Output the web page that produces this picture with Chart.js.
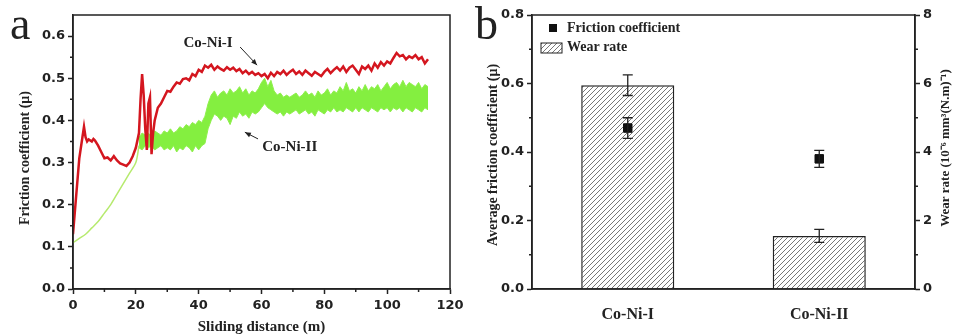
<!DOCTYPE html>
<html><head><meta charset="utf-8">
<script src="https://cdn.jsdelivr.net/npm/chart.js@4.4.0/dist/chart.umd.min.js"></script>
<style>
html,body{margin:0;padding:0;background:#fff;}
#wrap{position:relative;width:955px;height:335px;overflow:hidden;background:#fff;}
#chartA{position:absolute;left:0;top:0;}
#chartB{position:absolute;left:470px;top:0;}
</style></head><body>
<div id="wrap">
<canvas id="chartA" width="470" height="335"></canvas>
<canvas id="chartB" width="485" height="335"></canvas>
</div>
<script>
// ---------- Panel a data ----------
const xTicksA = [0, 20, 40, 60, 80, 100, 120];
const yTicksA = [0.0, 0.1, 0.2, 0.3, 0.4, 0.5, 0.6];

const redDistance = [
  0, 1, 2, 3, 3.5, 4, 4.5, 5, 6, 6.5,
  7, 8, 9, 10, 11, 12, 13, 14, 15, 16,
  17, 18, 19, 20, 21, 21.5, 22, 22.5, 23, 23.5,
  24, 24.5, 25, 25.5, 26,
  27, 28, 29, 30, 31, 32, 33, 34, 35, 36,
  37, 38, 39, 40, 41, 42, 43, 44, 45, 46,
  47, 48, 49, 50, 51, 52, 53, 54, 55, 56,
  57, 58, 59, 60, 61, 62, 63, 64, 65, 66,
  67, 68, 69, 70, 71, 72, 73, 74, 75, 76,
  77, 78, 79, 80, 81, 82, 83, 84, 85, 86,
  87, 88, 89, 90, 91, 92, 93, 94, 95, 96,
  97, 98, 99, 100, 101, 102, 103, 104, 105, 106,
  107, 108, 109, 110, 111, 112, 113
];
const redFriction = [
  0.13, 0.22, 0.31, 0.36, 0.385, 0.36, 0.35, 0.355, 0.35, 0.356,
  0.352, 0.34, 0.325, 0.31, 0.312, 0.305, 0.315, 0.305, 0.298, 0.295,
  0.292, 0.30, 0.315, 0.335, 0.37, 0.45, 0.51, 0.46, 0.38, 0.33,
  0.44, 0.455, 0.32, 0.37, 0.40,
  0.43, 0.44, 0.455, 0.47, 0.468, 0.48, 0.49, 0.487, 0.498, 0.50,
  0.495, 0.51, 0.505, 0.52, 0.515, 0.53, 0.525, 0.532, 0.52, 0.528,
  0.522, 0.518, 0.526, 0.52, 0.525, 0.517, 0.522, 0.512, 0.518, 0.51,
  0.515, 0.508, 0.512, 0.505, 0.51, 0.50, 0.513, 0.505, 0.515, 0.51,
  0.518, 0.508, 0.515, 0.52, 0.51, 0.516, 0.508, 0.518, 0.512, 0.506,
  0.515, 0.51, 0.505, 0.515, 0.522, 0.512, 0.52, 0.526, 0.518, 0.528,
  0.515, 0.525, 0.53, 0.52, 0.51, 0.528, 0.522, 0.53, 0.518, 0.535,
  0.525, 0.538, 0.53, 0.54, 0.535, 0.548, 0.56, 0.552, 0.555, 0.545,
  0.552, 0.548, 0.555, 0.545, 0.55, 0.535, 0.545
];

const greenStartDistance = [0, 2, 4, 6, 8, 10, 12, 14, 16, 18, 20, 21];
const greenStartFriction = [0.11, 0.12, 0.13, 0.145, 0.16, 0.18, 0.20, 0.225, 0.25, 0.275, 0.30, 0.34];

const greenBandDistance = [
  21, 22, 23, 24, 25, 26, 27, 28, 29, 30,
  31, 32, 33, 34, 35, 36, 37, 38, 39, 40,
  41, 42, 43, 44, 45, 46, 47, 48, 49, 50,
  51, 52, 53, 54, 55, 56, 57, 58, 59, 60,
  61, 62, 63, 64, 65, 66, 67, 68, 69, 70,
  71, 72, 73, 74, 75, 76, 77, 78, 79, 80,
  81, 82, 83, 84, 85, 86, 87, 88, 89, 90,
  91, 92, 93, 94, 95, 96, 97, 98, 99, 100,
  101, 102, 103, 104, 105, 106, 107, 108, 109, 110,
  111, 112, 113
];
const greenUpper = [
  0.36, 0.37, 0.365, 0.37, 0.36, 0.375, 0.37, 0.365, 0.375, 0.37,
  0.38, 0.37, 0.375, 0.385, 0.38, 0.39, 0.385, 0.395, 0.39, 0.40,
  0.395, 0.41, 0.44, 0.46, 0.47, 0.455, 0.465, 0.47, 0.46, 0.475,
  0.465, 0.47, 0.48, 0.465, 0.475, 0.46, 0.47, 0.465, 0.475, 0.49,
  0.50, 0.48, 0.495, 0.47, 0.46, 0.465, 0.455, 0.46, 0.455, 0.46,
  0.465, 0.455, 0.46, 0.47, 0.46, 0.465, 0.455, 0.47, 0.46, 0.465,
  0.475, 0.46, 0.47, 0.465, 0.48, 0.47, 0.49, 0.47, 0.475, 0.465,
  0.48, 0.47, 0.485, 0.47, 0.48, 0.475, 0.485, 0.47, 0.48, 0.49,
  0.475, 0.485, 0.49, 0.48, 0.495, 0.48, 0.49, 0.485, 0.48, 0.49,
  0.475, 0.485, 0.48
];
const greenLower = [
  0.335, 0.33, 0.34, 0.335, 0.34, 0.33, 0.335, 0.34, 0.33, 0.335,
  0.33, 0.34, 0.325, 0.335, 0.33, 0.34, 0.335, 0.325, 0.34, 0.33,
  0.34, 0.345, 0.38, 0.40, 0.415, 0.41, 0.40, 0.41, 0.405, 0.39,
  0.41, 0.405, 0.42, 0.41, 0.415, 0.405, 0.42, 0.415, 0.42, 0.43,
  0.44, 0.43, 0.425, 0.42, 0.415, 0.42, 0.41, 0.42, 0.415, 0.42,
  0.425, 0.415, 0.42, 0.425, 0.415, 0.42, 0.41, 0.425, 0.42, 0.415,
  0.425, 0.42, 0.43, 0.42, 0.425, 0.42, 0.43, 0.425, 0.42, 0.43,
  0.42, 0.43, 0.425, 0.42, 0.43, 0.425, 0.42, 0.43, 0.425, 0.43,
  0.42, 0.43, 0.425, 0.43, 0.42, 0.43, 0.425, 0.42, 0.43, 0.425,
  0.42, 0.43, 0.425
];

// ---------- Panel b data ----------
const samples = ['Co-Ni-I', 'Co-Ni-II'];
const avgFriction = [0.47, 0.38];
const avgFrictionErr = [0.03, 0.025];
const wearRate = [5.95, 1.55];
const wearRateErr = [0.3, 0.19];
const yTicksB = [0.0, 0.2, 0.4, 0.6, 0.8];
const y1TicksB = [0, 2, 4, 6, 8];

// ---------- helpers ----------
const INK = '#222';
const tickFont = {family: 'DejaVu Sans', size: 13, weight: 'bold'};
const serifBold = (s) => 'bold ' + s + 'px "Liberation Serif", "Times New Roman", serif';

function pts(xs, ys) { return xs.map((x, i) => ({x: x, y: ys[i]})); }

function minorTicks(ctx, scale, values, len, side) {
  ctx.save(); ctx.strokeStyle = INK; ctx.lineWidth = 1.5; ctx.beginPath();
  values.forEach(v => {
    const p = scale.getPixelForValue(v);
    if (side === 'bottom') { ctx.moveTo(p, scale.top); ctx.lineTo(p, scale.top + len); }
    if (side === 'left') { ctx.moveTo(scale.right, p); ctx.lineTo(scale.right - len, p); }
    if (side === 'right') { ctx.moveTo(scale.left, p); ctx.lineTo(scale.left + len, p); }
  });
  ctx.stroke(); ctx.restore();
}
function frame(ctx, a) {
  ctx.save(); ctx.strokeStyle = INK; ctx.lineWidth = 1.5;
  ctx.strokeRect(a.left, a.top, a.right - a.left, a.bottom - a.top); ctx.restore();
}
function text(ctx, str, x, y, font, align, rot) {
  ctx.save(); ctx.fillStyle = INK; ctx.font = font; ctx.textAlign = align || 'center';
  ctx.textBaseline = 'middle'; ctx.translate(x, y); if (rot) ctx.rotate(rot);
  ctx.fillText(str, 0, 0); ctx.restore();
}
function arrow(ctx, x1, y1, x2, y2) {
  ctx.save(); ctx.strokeStyle = INK; ctx.fillStyle = INK; ctx.lineWidth = 1;
  ctx.beginPath(); ctx.moveTo(x1, y1); ctx.lineTo(x2, y2); ctx.stroke();
  const ang = Math.atan2(y2 - y1, x2 - x1), L = 6, W = 2.5;
  ctx.beginPath(); ctx.moveTo(x2, y2);
  ctx.lineTo(x2 - L * Math.cos(ang) + W * Math.sin(ang), y2 - L * Math.sin(ang) - W * Math.cos(ang));
  ctx.lineTo(x2 - L * Math.cos(ang) - W * Math.sin(ang), y2 - L * Math.sin(ang) + W * Math.cos(ang));
  ctx.closePath(); ctx.fill(); ctx.restore();
}

// ---------- Panel a ----------
const decorA = {
  id: 'decorA',
  afterDraw(chart) {
    const ctx = chart.ctx, a = chart.chartArea, xs = chart.scales.x, ys = chart.scales.y;
    frame(ctx, a);
    minorTicks(ctx, xs, [10, 30, 50, 70, 90, 110], 3, 'bottom');
    minorTicks(ctx, ys, [0.05, 0.15, 0.25, 0.35, 0.45, 0.55], 3, 'left');
    text(ctx, 'Sliding distance (m)', (a.left + a.right) / 2, 327, serifBold(15));
    text(ctx, 'Friction coefficient (\u03bc)', 25, 158, serifBold(14), 'center', -Math.PI / 2);
    text(ctx, 'a', 10, 27, '46px "Liberation Serif", serif', 'left');
    // series annotations (data coordinates)
    const X = v => xs.getPixelForValue(v), Y = v => ys.getPixelForValue(v);
    text(ctx, 'Co-Ni-I', X(43), Y(0.584), serifBold(15));
    arrow(ctx, X(53.2), Y(0.574), X(58.6), Y(0.531));
    text(ctx, 'Co-Ni-II', X(69), Y(0.337), serifBold(15));
    arrow(ctx, X(58.9), Y(0.356), X(54.7), Y(0.372));
  }
};

new Chart(document.getElementById('chartA'), {
  type: 'line',
  data: {
    datasets: [
      {label: 'Co-Ni-I', data: pts(redDistance, redFriction), borderColor: '#d4161f',
       borderWidth: 2.5, pointRadius: 0, tension: 0, fill: false},
      {label: 'Co-Ni-II run-in', data: pts(greenStartDistance, greenStartFriction), borderColor: '#b6ea6e',
       borderWidth: 1.5, pointRadius: 0, tension: 0.3, fill: false},
      {label: 'Co-Ni-II lower', data: pts(greenBandDistance, greenLower), borderColor: '#8eef4c',
       borderWidth: 1, pointRadius: 0, tension: 0, fill: false},
      {label: 'Co-Ni-II upper', data: pts(greenBandDistance, greenUpper), borderColor: '#8eef4c',
       borderWidth: 1, pointRadius: 0, tension: 0, fill: '-1', backgroundColor: '#84ef40'}
    ]
  },
  options: {
    responsive: false, animation: false,
    layout: {padding: {left: 0, right: 20, top: 15, bottom: 0}},
    plugins: {legend: {display: false}, tooltip: {enabled: false}},
    scales: {
      x: {
        type: 'linear', min: xTicksA[0], max: xTicksA[xTicksA.length - 1],
        afterBuildTicks(s) { s.ticks = xTicksA.map(v => ({value: v})); },
        ticks: {font: tickFont, color: INK, padding: 4, maxRotation: 0},
        grid: {drawOnChartArea: false, tickLength: 5, tickColor: INK, tickWidth: 1.5},
        border: {color: INK, width: 1.5},
        afterFit(s) { s.height = 46; }
      },
      y: {
        type: 'linear', min: 0, max: 0.65,
        afterBuildTicks(s) { s.ticks = yTicksA.map(v => ({value: v})); },
        ticks: {font: tickFont, color: INK, padding: 3, callback: v => Number(v).toFixed(1)},
        grid: {drawOnChartArea: false, tickLength: 5, tickColor: INK, tickWidth: 1.5},
        border: {color: INK, width: 1.5},
        afterFit(s) { s.width = 73; }
      }
    }
  },
  plugins: [decorA]
});

// ---------- Panel b ----------
function hatchPattern(ctx) {
  const c = document.createElement('canvas'); c.width = 5; c.height = 5;
  const g = c.getContext('2d');
  g.fillStyle = '#fff'; g.fillRect(0, 0, 5, 5);
  g.strokeStyle = '#777'; g.lineWidth = 1;
  g.beginPath();
  g.moveTo(0, 5); g.lineTo(5, 0);
  g.moveTo(-1, 1); g.lineTo(1, -1);
  g.moveTo(4, 6); g.lineTo(6, 4);
  g.stroke();
  return ctx.createPattern(c, 'repeat');
}
const ctxB = document.getElementById('chartB').getContext('2d');
const hatch = hatchPattern(ctxB);

const decorB = {
  id: 'decorB',
  afterDatasetsDraw(chart) {
    const ctx = chart.ctx, ys = chart.scales.y, y1 = chart.scales.y1;
    const barMeta = chart.getDatasetMeta(1), ptMeta = chart.getDatasetMeta(0);
    ctx.save(); ctx.strokeStyle = INK; ctx.lineWidth = 1.3;
    const eb = (x, top, bot) => {
      ctx.beginPath();
      ctx.moveTo(x, top); ctx.lineTo(x, bot);
      ctx.moveTo(x - 5, top); ctx.lineTo(x + 5, top);
      ctx.moveTo(x - 5, bot); ctx.lineTo(x + 5, bot);
      ctx.stroke();
    };
    wearRate.forEach((v, i) => {
      const x = barMeta.data[i].x;
      eb(x, y1.getPixelForValue(v + wearRateErr[i]), y1.getPixelForValue(v - wearRateErr[i]));
    });
    avgFriction.forEach((v, i) => {
      const x = ptMeta.data[i].x;
      eb(x, ys.getPixelForValue(v + avgFrictionErr[i]), ys.getPixelForValue(v - avgFrictionErr[i]));
    });
    ctx.restore();
  },
  afterDraw(chart) {
    const ctx = chart.ctx, a = chart.chartArea;
    frame(ctx, a);
    minorTicks(ctx, chart.scales.y, [0.1, 0.3, 0.5, 0.7], 3, 'left');
    minorTicks(ctx, chart.scales.y1, [1, 3, 5, 7], 3, 'right');
    text(ctx, 'b', 5, 27, '46px "Liberation Serif", serif', 'left');
    text(ctx, 'Average friction coefficient (\u03bc)', 23, 155, serifBold(14), 'center', -Math.PI / 2);
    text(ctx, 'Wear rate (10\u207b\u2076 mm\u00b3(N.m)\u207b\u00b9)', 476, 148, serifBold(13), 'center', -Math.PI / 2);
    // legend
    ctx.save();
    ctx.fillStyle = '#111'; ctx.fillRect(79, 24, 8, 8);
    ctx.fillStyle = hatch; ctx.fillRect(71, 43, 21, 10);
    ctx.strokeStyle = INK; ctx.lineWidth = 1; ctx.strokeRect(71, 43, 21, 10);
    ctx.restore();
    text(ctx, 'Friction coefficient', 97, 28, serifBold(14), 'left');
    text(ctx, 'Wear rate', 97, 47, serifBold(14), 'left');
  }
};

new Chart(ctxB, {
  type: 'bar',
  data: {
    labels: samples,
    datasets: [
      {type: 'line', label: 'Friction coefficient', data: avgFriction, yAxisID: 'y', showLine: false,
       pointStyle: 'rect', pointRadius: 6, pointBackgroundColor: '#111', pointBorderColor: '#111', order: 0},
      {type: 'bar', label: 'Wear rate', data: wearRate, yAxisID: 'y1', backgroundColor: hatch,
       borderColor: INK, borderWidth: 1.5, categoryPercentage: 1, barPercentage: 0.486, order: 1}
    ]
  },
  options: {
    responsive: false, animation: false,
    layout: {padding: {left: 0, right: 0, top: 15, bottom: 0}},
    plugins: {legend: {display: false}, tooltip: {enabled: false}},
    scales: {
      x: {
        offset: true,
        ticks: {font: {family: 'Liberation Serif', size: 16, weight: 'bold'}, color: INK, padding: 8},
        grid: {display: false, drawOnChartArea: false},
        border: {color: INK, width: 1.5},
        afterFit(s) { s.height = 46; }
      },
      y: {
        position: 'left', min: 0, max: 0.8,
        afterBuildTicks(s) { s.ticks = yTicksB.map(v => ({value: v})); },
        ticks: {font: tickFont, color: INK, padding: 3, callback: v => Number(v).toFixed(1)},
        grid: {drawOnChartArea: false, tickLength: 5, tickColor: INK, tickWidth: 1.5},
        border: {color: INK, width: 1.5},
        afterFit(s) { s.width = 62; }
      },
      y1: {
        position: 'right', min: 0, max: 8,
        afterBuildTicks(s) { s.ticks = y1TicksB.map(v => ({value: v})); },
        ticks: {font: tickFont, color: INK, padding: 3},
        grid: {drawOnChartArea: false, tickLength: 5, tickColor: INK, tickWidth: 1.5},
        border: {color: INK, width: 1.5},
        afterFit(s) { s.width = 40; }
      }
    }
  },
  plugins: [decorB]
});
</script>
</body></html>
